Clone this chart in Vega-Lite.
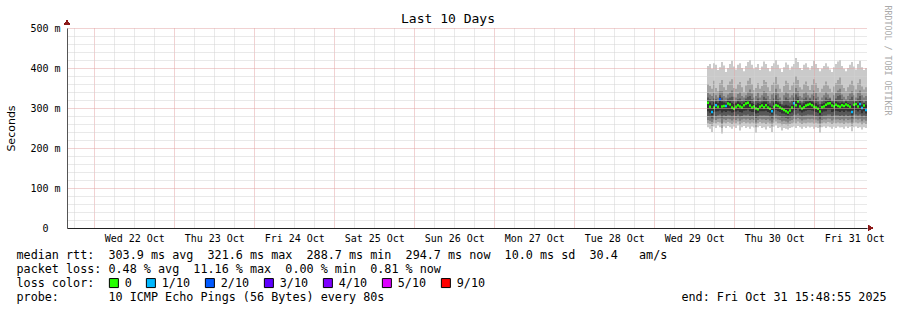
{
  "$schema": "https://vega.github.io/schema/vega-lite/v6.json",
  "width": 800,
  "height": 200,
  "autosize": {"type": "none"},
  "padding": {"left": 67, "top": 28, "right": 30, "bottom": 82},
  "background": "white",
  "title": {"text": "Last 10 Days", "font": "DejaVu Sans Mono", "fontSize": 13, "fontWeight": "normal", "color": "#000", "anchor": "middle", "frame": "group", "dx": -19, "offset": -21},
  "data": {"values": [
    {"t":"2025-10-29T15:48:55Z","m":313,"l":"0","p1":252,"p2":262,"p3":270,"p4":280,"p5":292,"p6":318,"p7":326,"p8":338,"p9":360,"p10":405},
    {"t":"2025-10-29T16:24:55Z","m":303,"l":"0","p1":248,"p2":260,"p3":268,"p4":278,"p5":288,"p6":314,"p7":322,"p8":334,"p9":355,"p10":410},
    {"t":"2025-10-29T17:00:55Z","m":290,"l":"1/10","p1":240,"p2":255,"p3":265,"p4":274,"p5":282,"p6":308,"p7":318,"p8":330,"p9":348,"p10":398},
    {"t":"2025-10-29T17:36:55Z","m":301,"l":"0","p1":254,"p2":263,"p3":271,"p4":281,"p5":290,"p6":315,"p7":324,"p8":338,"p9":368,"p10":412},
    {"t":"2025-10-29T18:12:55Z","m":307,"l":"1/10","p1":250,"p2":262,"p3":270,"p4":279,"p5":291,"p6":316,"p7":322,"p8":332,"p9":350,"p10":408},
    {"t":"2025-10-29T18:48:55Z","m":303,"l":"0","p1":256,"p2":265,"p3":273,"p4":282,"p5":292,"p6":312,"p7":318,"p8":326,"p9":342,"p10":395},
    {"t":"2025-10-29T19:24:55Z","m":322,"l":"2/10","p1":252,"p2":264,"p3":274,"p4":284,"p5":294,"p6":326,"p7":332,"p8":342,"p9":362,"p10":402},
    {"t":"2025-10-29T20:00:55Z","m":304,"l":"0","p1":236,"p2":250,"p3":262,"p4":276,"p5":289,"p6":316,"p7":326,"p8":342,"p9":370,"p10":415},
    {"t":"2025-10-29T20:36:55Z","m":305,"l":"0","p1":254,"p2":264,"p3":272,"p4":282,"p5":292,"p6":314,"p7":320,"p8":330,"p9":352,"p10":406},
    {"t":"2025-10-29T21:12:55Z","m":305,"l":"1/10","p1":250,"p2":262,"p3":270,"p4":280,"p5":290,"p6":312,"p7":318,"p8":326,"p9":345,"p10":390},
    {"t":"2025-10-29T21:48:55Z","m":311,"l":"0","p1":255,"p2":265,"p3":273,"p4":283,"p5":293,"p6":318,"p7":324,"p8":334,"p9":358,"p10":400},
    {"t":"2025-10-29T22:24:55Z","m":309,"l":"0","p1":252,"p2":263,"p3":272,"p4":282,"p5":292,"p6":317,"p7":326,"p8":338,"p9":366,"p10":410},
    {"t":"2025-10-29T23:00:55Z","m":301,"l":"0","p1":248,"p2":260,"p3":269,"p4":279,"p5":289,"p6":313,"p7":328,"p8":344,"p9":372,"p10":418},
    {"t":"2025-10-29T23:36:55Z","m":298,"l":"0","p1":254,"p2":264,"p3":272,"p4":281,"p5":290,"p6":310,"p7":318,"p8":328,"p9":350,"p10":404},
    {"t":"2025-10-30T00:12:55Z","m":303,"l":"0","p1":250,"p2":262,"p3":270,"p4":280,"p5":291,"p6":312,"p7":316,"p8":326,"p9":348,"p10":396},
    {"t":"2025-10-30T00:48:55Z","m":307,"l":"0","p1":256,"p2":266,"p3":274,"p4":284,"p5":294,"p6":316,"p7":322,"p8":335,"p9":360,"p10":408},
    {"t":"2025-10-30T01:24:55Z","m":304,"l":"0","p1":244,"p2":258,"p3":268,"p4":278,"p5":290,"p6":314,"p7":324,"p8":340,"p9":365,"p10":412},
    {"t":"2025-10-30T02:00:55Z","m":301,"l":"0","p1":252,"p2":263,"p3":271,"p4":280,"p5":289,"p6":310,"p7":318,"p8":330,"p9":352,"p10":400},
    {"t":"2025-10-30T02:36:55Z","m":307,"l":"0","p1":255,"p2":265,"p3":273,"p4":283,"p5":293,"p6":314,"p7":320,"p8":326,"p9":340,"p10":392},
    {"t":"2025-10-30T03:12:55Z","m":311,"l":"0","p1":250,"p2":262,"p3":271,"p4":282,"p5":294,"p6":318,"p7":324,"p8":332,"p9":356,"p10":405},
    {"t":"2025-10-30T03:48:55Z","m":313,"l":"0","p1":253,"p2":264,"p3":273,"p4":284,"p5":296,"p6":320,"p7":328,"p8":340,"p9":368,"p10":415},
    {"t":"2025-10-30T04:24:55Z","m":306,"l":"0","p1":248,"p2":261,"p3":270,"p4":280,"p5":292,"p6":318,"p7":330,"p8":346,"p9":375,"p10":420},
    {"t":"2025-10-30T05:00:55Z","m":301,"l":"0","p1":254,"p2":264,"p3":272,"p4":281,"p5":290,"p6":312,"p7":322,"p8":336,"p9":360,"p10":408},
    {"t":"2025-10-30T05:36:55Z","m":304,"l":"0","p1":251,"p2":262,"p3":270,"p4":280,"p5":290,"p6":310,"p7":316,"p8":326,"p9":345,"p10":398},
    {"t":"2025-10-30T06:12:55Z","m":299,"l":"0","p1":238,"p2":252,"p3":264,"p4":275,"p5":286,"p6":308,"p7":318,"p8":330,"p9":350,"p10":402},
    {"t":"2025-10-30T06:48:55Z","m":297,"l":"0","p1":252,"p2":262,"p3":270,"p4":279,"p5":288,"p6":312,"p7":324,"p8":338,"p9":362,"p10":410},
    {"t":"2025-10-30T07:24:55Z","m":303,"l":"0","p1":255,"p2":265,"p3":273,"p4":282,"p5":292,"p6":310,"p7":316,"p8":326,"p9":348,"p10":395},
    {"t":"2025-10-30T08:00:55Z","m":306,"l":"0","p1":250,"p2":262,"p3":271,"p4":281,"p5":292,"p6":314,"p7":320,"p8":332,"p9":355,"p10":404},
    {"t":"2025-10-30T08:36:55Z","m":302,"l":"0","p1":252,"p2":263,"p3":272,"p4":282,"p5":292,"p6":316,"p7":328,"p8":342,"p9":370,"p10":416},
    {"t":"2025-10-30T09:12:55Z","m":307,"l":"0","p1":246,"p2":260,"p3":270,"p4":281,"p5":293,"p6":316,"p7":324,"p8":338,"p9":365,"p10":410},
    {"t":"2025-10-30T09:48:55Z","m":301,"l":"0","p1":254,"p2":264,"p3":272,"p4":281,"p5":290,"p6":310,"p7":318,"p8":330,"p9":352,"p10":400},
    {"t":"2025-10-30T10:24:55Z","m":298,"l":"0","p1":250,"p2":261,"p3":269,"p4":278,"p5":288,"p6":306,"p7":312,"p8":322,"p9":342,"p10":392},
    {"t":"2025-10-30T11:00:55Z","m":292,"l":"1/10","p1":240,"p2":254,"p3":264,"p4":274,"p5":284,"p6":304,"p7":320,"p8":334,"p9":358,"p10":405},
    {"t":"2025-10-30T11:36:55Z","m":303,"l":"0","p1":253,"p2":263,"p3":271,"p4":281,"p5":291,"p6":314,"p7":324,"p8":338,"p9":364,"p10":412},
    {"t":"2025-10-30T12:12:55Z","m":307,"l":"0","p1":256,"p2":266,"p3":274,"p4":284,"p5":295,"p6":318,"p7":332,"p8":348,"p9":378,"p10":420},
    {"t":"2025-10-30T12:48:55Z","m":305,"l":"0","p1":250,"p2":262,"p3":271,"p4":281,"p5":292,"p6":314,"p7":322,"p8":336,"p9":360,"p10":408},
    {"t":"2025-10-30T13:24:55Z","m":301,"l":"0","p1":252,"p2":262,"p3":270,"p4":280,"p5":290,"p6":310,"p7":316,"p8":326,"p9":348,"p10":398},
    {"t":"2025-10-30T14:00:55Z","m":298,"l":"0","p1":244,"p2":257,"p3":266,"p4":276,"p5":286,"p6":306,"p7":310,"p8":320,"p9":340,"p10":390},
    {"t":"2025-10-30T14:36:55Z","m":295,"l":"0","p1":250,"p2":260,"p3":268,"p4":277,"p5":286,"p6":306,"p7":318,"p8":332,"p9":355,"p10":402},
    {"t":"2025-10-30T15:12:55Z","m":292,"l":"0","p1":248,"p2":258,"p3":266,"p4":275,"p5":284,"p6":308,"p7":326,"p8":340,"p9":368,"p10":414},
    {"t":"2025-10-30T15:48:55Z","m":289,"l":"0","p1":246,"p2":256,"p3":264,"p4":273,"p5":282,"p6":306,"p7":322,"p8":336,"p9":362,"p10":408},
    {"t":"2025-10-30T16:24:55Z","m":294,"l":"0","p1":250,"p2":260,"p3":268,"p4":276,"p5":286,"p6":304,"p7":314,"p8":326,"p9":345,"p10":396},
    {"t":"2025-10-30T17:00:55Z","m":301,"l":"0","p1":252,"p2":262,"p3":270,"p4":279,"p5":289,"p6":308,"p7":318,"p8":332,"p9":356,"p10":404},
    {"t":"2025-10-30T17:36:55Z","m":312,"l":"1/10","p1":254,"p2":264,"p3":273,"p4":283,"p5":294,"p6":320,"p7":326,"p8":338,"p9":364,"p10":410},
    {"t":"2025-10-30T18:12:55Z","m":307,"l":"0","p1":250,"p2":262,"p3":272,"p4":283,"p5":295,"p6":318,"p7":334,"p8":350,"p9":380,"p10":425},
    {"t":"2025-10-30T18:48:55Z","m":316,"l":"0","p1":255,"p2":266,"p3":275,"p4":286,"p5":298,"p6":322,"p7":328,"p8":342,"p9":370,"p10":415},
    {"t":"2025-10-30T19:24:55Z","m":304,"l":"0","p1":252,"p2":263,"p3":272,"p4":282,"p5":292,"p6":312,"p7":318,"p8":330,"p9":352,"p10":400},
    {"t":"2025-10-30T20:00:55Z","m":299,"l":"0","p1":248,"p2":260,"p3":269,"p4":279,"p5":289,"p6":308,"p7":314,"p8":326,"p9":346,"p10":395},
    {"t":"2025-10-30T20:36:55Z","m":302,"l":"0","p1":253,"p2":263,"p3":271,"p4":281,"p5":291,"p6":312,"p7":322,"p8":336,"p9":360,"p10":408},
    {"t":"2025-10-30T21:12:55Z","m":306,"l":"0","p1":250,"p2":262,"p3":271,"p4":282,"p5":293,"p6":316,"p7":326,"p8":340,"p9":366,"p10":412},
    {"t":"2025-10-30T21:48:55Z","m":308,"l":"0","p1":254,"p2":264,"p3":273,"p4":284,"p5":295,"p6":316,"p7":320,"p8":332,"p9":355,"p10":402},
    {"t":"2025-10-30T22:24:55Z","m":310,"l":"0","p1":251,"p2":263,"p3":272,"p4":283,"p5":295,"p6":318,"p7":324,"p8":326,"p9":345,"p10":396},
    {"t":"2025-10-30T23:00:55Z","m":307,"l":"0","p1":253,"p2":264,"p3":273,"p4":283,"p5":294,"p6":316,"p7":320,"p8":334,"p9":358,"p10":405},
    {"t":"2025-10-30T23:36:55Z","m":303,"l":"0","p1":248,"p2":261,"p3":271,"p4":281,"p5":292,"p6":314,"p7":330,"p8":344,"p9":372,"p10":418},
    {"t":"2025-10-31T00:12:55Z","m":301,"l":"0","p1":252,"p2":263,"p3":271,"p4":280,"p5":290,"p6":312,"p7":324,"p8":338,"p9":362,"p10":410},
    {"t":"2025-10-31T00:48:55Z","m":298,"l":"0","p1":250,"p2":261,"p3":269,"p4":278,"p5":288,"p6":308,"p7":316,"p8":328,"p9":350,"p10":400},
    {"t":"2025-10-31T01:24:55Z","m":291,"l":"0","p1":238,"p2":252,"p3":262,"p4":272,"p5":282,"p6":302,"p7":310,"p8":320,"p9":340,"p10":392},
    {"t":"2025-10-31T02:00:55Z","m":302,"l":"0","p1":252,"p2":262,"p3":270,"p4":279,"p5":289,"p6":310,"p7":316,"p8":326,"p9":348,"p10":398},
    {"t":"2025-10-31T02:36:55Z","m":304,"l":"0","p1":254,"p2":264,"p3":272,"p4":281,"p5":291,"p6":312,"p7":320,"p8":332,"p9":356,"p10":405},
    {"t":"2025-10-31T03:12:55Z","m":308,"l":"0","p1":250,"p2":262,"p3":271,"p4":281,"p5":292,"p6":316,"p7":326,"p8":340,"p9":366,"p10":412},
    {"t":"2025-10-31T03:48:55Z","m":311,"l":"0","p1":254,"p2":265,"p3":274,"p4":284,"p5":296,"p6":318,"p7":322,"p8":334,"p9":356,"p10":404},
    {"t":"2025-10-31T04:24:55Z","m":312,"l":"0","p1":252,"p2":264,"p3":273,"p4":284,"p5":296,"p6":320,"p7":324,"p8":326,"p9":348,"p10":396},
    {"t":"2025-10-31T05:00:55Z","m":306,"l":"0","p1":248,"p2":260,"p3":269,"p4":279,"p5":290,"p6":314,"p7":318,"p8":320,"p9":340,"p10":390},
    {"t":"2025-10-31T05:36:55Z","m":304,"l":"0","p1":253,"p2":263,"p3":271,"p4":281,"p5":291,"p6":312,"p7":320,"p8":332,"p9":354,"p10":402},
    {"t":"2025-10-31T06:12:55Z","m":308,"l":"0","p1":250,"p2":262,"p3":271,"p4":282,"p5":293,"p6":316,"p7":324,"p8":338,"p9":362,"p10":410},
    {"t":"2025-10-31T06:48:55Z","m":305,"l":"0","p1":254,"p2":264,"p3":272,"p4":282,"p5":292,"p6":314,"p7":330,"p8":344,"p9":370,"p10":416},
    {"t":"2025-10-31T07:24:55Z","m":303,"l":"0","p1":251,"p2":262,"p3":270,"p4":280,"p5":290,"p6":312,"p7":332,"p8":348,"p9":376,"p10":420},
    {"t":"2025-10-31T08:00:55Z","m":307,"l":"0","p1":252,"p2":263,"p3":272,"p4":282,"p5":293,"p6":314,"p7":322,"p8":334,"p9":358,"p10":405},
    {"t":"2025-10-31T08:36:55Z","m":305,"l":"0","p1":248,"p2":260,"p3":269,"p4":279,"p5":290,"p6":312,"p7":316,"p8":328,"p9":350,"p10":398},
    {"t":"2025-10-31T09:12:55Z","m":309,"l":"0","p1":254,"p2":264,"p3":273,"p4":283,"p5":294,"p6":316,"p7":320,"p8":322,"p9":342,"p10":392},
    {"t":"2025-10-31T09:48:55Z","m":306,"l":"0","p1":250,"p2":262,"p3":270,"p4":280,"p5":291,"p6":312,"p7":318,"p8":330,"p9":352,"p10":400},
    {"t":"2025-10-31T10:24:55Z","m":303,"l":"0","p1":253,"p2":263,"p3":271,"p4":281,"p5":291,"p6":310,"p7":322,"p8":336,"p9":360,"p10":408},
    {"t":"2025-10-31T11:00:55Z","m":290,"l":"1/10","p1":242,"p2":255,"p3":264,"p4":274,"p5":283,"p6":306,"p7":328,"p8":342,"p9":368,"p10":415},
    {"t":"2025-10-31T11:36:55Z","m":308,"l":"0","p1":252,"p2":263,"p3":272,"p4":283,"p5":294,"p6":314,"p7":320,"p8":332,"p9":356,"p10":404},
    {"t":"2025-10-31T12:12:55Z","m":310,"l":"0","p1":254,"p2":264,"p3":273,"p4":284,"p5":295,"p6":316,"p7":316,"p8":326,"p9":346,"p10":396},
    {"t":"2025-10-31T12:48:55Z","m":304,"l":"0","p1":250,"p2":262,"p3":271,"p4":281,"p5":291,"p6":312,"p7":324,"p8":338,"p9":362,"p10":410},
    {"t":"2025-10-31T13:24:55Z","m":310,"l":"1/10","p1":252,"p2":264,"p3":273,"p4":284,"p5":295,"p6":318,"p7":330,"p8":344,"p9":372,"p10":418},
    {"t":"2025-10-31T14:00:55Z","m":300,"l":"1/10","p1":246,"p2":258,"p3":267,"p4":277,"p5":287,"p6":308,"p7":320,"p8":332,"p9":354,"p10":402},
    {"t":"2025-10-31T14:36:55Z","m":306,"l":"0","p1":252,"p2":263,"p3":271,"p4":281,"p5":292,"p6":312,"p7":314,"p8":326,"p9":346,"p10":395},
    {"t":"2025-10-31T15:12:55Z","m":295,"l":"1/10","p1":250,"p2":260,"p3":268,"p4":277,"p5":286,"p6":308,"p7":318,"p8":330,"p9":352,"p10":400},
    {"t":"2025-10-31T15:48:55Z","p1":250,"p2":260,"p3":268,"p4":277,"p5":286,"p6":308,"p7":318,"p8":330,"p9":352,"p10":400}
  ]},
  "encoding": {
    "x": {
      "field": "t", "type": "temporal",
      "scale": {"type": "utc", "domain": [1761061735000, 1761925735000]},
      "axis": {
        "values": [1761069600000,1761091200000,1761112800000,1761134400000,1761156000000,1761177600000,1761199200000,1761220800000,1761242400000,1761264000000,1761285600000,1761307200000,1761328800000,1761350400000,1761372000000,1761393600000,1761415200000,1761436800000,1761458400000,1761480000000,1761501600000,1761523200000,1761544800000,1761566400000,1761588000000,1761609600000,1761631200000,1761652800000,1761674400000,1761696000000,1761717600000,1761739200000,1761760800000,1761782400000,1761804000000,1761825600000,1761847200000,1761868800000,1761890400000,1761912000000],
        "grid": true,
        "gridColor": {"condition": {"test": "utchours(datum.value) == 0", "value": "#e2a4a4"}, "value": "#d2d2d2"},
        "gridDash": [1, 1],
        "ticks": false,
        "domain": true,
        "domainColor": "#222222",
        "labelExpr": "utchours(datum.value) == 0 ? utcFormat(datum.value, '%a %d %b') : ''",
        "labelOffset": 40,
        "labelOverlap": false,
        "labelBound": false,
        "labelFlush": false,
        "labelFont": "DejaVu Sans Mono",
        "labelFontSize": 10,
        "labelColor": "#000000",
        "labelPadding": 5,
        "zindex": 1,
        "title": [
          "median rtt:\u00a0\u00a0303.9 ms avg\u00a0\u00a0321.6 ms max\u00a0\u00a0288.7 ms min\u00a0\u00a0294.7 ms now\u00a0\u00a010.0 ms sd\u00a0\u00a030.4\u00a0\u00a0\u00a0am/s",
          "packet loss:\u00a00.48 % avg\u00a0\u00a011.16 % max\u00a0\u00a00.00 % min\u00a0\u00a00.81 % now",
          "loss color:",
          "probe:\u00a0\u00a0\u00a0\u00a0\u00a0\u00a0\u00a010 ICMP Echo Pings (56 Bytes) every 80s\u00a0\u00a0\u00a0\u00a0\u00a0\u00a0\u00a0\u00a0\u00a0\u00a0\u00a0\u00a0\u00a0\u00a0\u00a0\u00a0\u00a0\u00a0\u00a0\u00a0\u00a0\u00a0\u00a0\u00a0\u00a0\u00a0\u00a0\u00a0\u00a0\u00a0\u00a0\u00a0\u00a0\u00a0\u00a0\u00a0\u00a0\u00a0\u00a0\u00a0\u00a0\u00a0end: Fri Oct 31 15:48:55 2025"
        ],
        "titleFont": "DejaVu Sans Mono",
        "titleFontSize": 11.75,
        "titleFontWeight": "normal",
        "titleColor": "#000000",
        "titleAnchor": "start",
        "titleAlign": "left",
        "titleBaseline": "alphabetic",
        "titleLineHeight": 14,
        "titleX": -51,
        "titleY": 30
      }
    }
  },
  "layer": [
    {
      "mark": {"type": "area", "interpolate": "step-after", "color": "#cacaca", "opacity": 1},
      "encoding": {
        "y": {
          "field": "p1", "type": "quantitative",
          "scale": {"domain": [0, 500], "nice": false},
          "axis": {
            "values": [0,20,40,60,80,100,120,140,160,180,200,220,240,260,280,300,320,340,360,380,400,420,440,460,480,500],
            "grid": true,
            "gridColor": {"condition": {"test": "datum.value % 100 == 0", "value": "#e2a4a4"}, "value": "#d2d2d2"},
            "gridDash": [1, 1],
            "ticks": false,
            "domain": true,
            "domainColor": "#555555",
            "labelExpr": "datum.value % 100 == 0 ? (datum.value == 0 ? '0' : datum.value + ' m') : ''",
            "labelPadding": {"condition": {"test": "datum.value == 0", "value": 19}, "value": 7},
            "labelFont": "DejaVu Sans Mono",
            "labelFontSize": 10,
            "labelColor": "#000000",
            "labelOverlap": false,
            "labelBound": false,
            "labelFlush": false,
            "zindex": 1,
            "title": "Seconds",
            "titleFont": "DejaVu Sans",
            "titleFontSize": 11,
            "titleFontWeight": "normal",
            "titleColor": "#000000",
            "titleX": -56,
            "titleY": 100,
            "titleBaseline": "middle",
            "titleAlign": "center",
            "titleAngle": 270
          }
        },
        "y2": {"field": "p10"}
      }
    },
    {
      "mark": {"type": "area", "interpolate": "step-after", "color": "#a4a4a4", "opacity": 1},
      "encoding": {"y": {"field": "p2", "type": "quantitative", "axis": null}, "y2": {"field": "p9"}}
    },
    {
      "mark": {"type": "area", "interpolate": "step-after", "color": "#7e7e7e", "opacity": 1},
      "encoding": {"y": {"field": "p3", "type": "quantitative", "axis": null}, "y2": {"field": "p8"}}
    },
    {
      "mark": {"type": "area", "interpolate": "step-after", "color": "#585858", "opacity": 1},
      "encoding": {"y": {"field": "p4", "type": "quantitative", "axis": null}, "y2": {"field": "p7"}}
    },
    {
      "mark": {"type": "area", "interpolate": "step-after", "color": "#323232", "opacity": 1},
      "encoding": {"y": {"field": "p5", "type": "quantitative", "axis": null}, "y2": {"field": "p6"}}
    },
    {
      "transform": [{"filter": "isValid(datum.m)"}],
      "mark": {"type": "tick", "orient": "horizontal", "size": 2, "thickness": 2.5, "xOffset": 1, "opacity": 1},
      "encoding": {
        "y": {
          "field": "m", "type": "quantitative",
          "axis": {
            "orient": "right", "grid": false, "ticks": false, "labels": false, "domain": false,
            "title": "RRDTOOL / TOBI OETIKER",
            "titleFont": "DejaVu Sans Mono", "titleFontSize": 8.3, "titleFontWeight": "normal",
            "titleColor": "#aaaaaa", "titleAngle": 90, "titleX": 19, "titleY": 32,
            "titleAlign": "center", "titleBaseline": "middle"
          }
        },
        "color": {
          "field": "l", "type": "nominal",
          "scale": {"domain": ["0", "1/10", "2/10", "3/10", "4/10", "5/10", "9/10"], "range": ["#26ff00", "#00b8ff", "#0059ff", "#5e00ff", "#7e00ff", "#dd00ff", "#ff0000"]},
          "legend": {
            "orient": "none", "legendX": 41, "legendY": 249,
            "direction": "horizontal", "columns": 7,
            "title": null,
            "symbolType": "square", "symbolSize": 81,
            "symbolStrokeColor": "#000000", "symbolStrokeWidth": 1, "symbolOpacity": 1,
            "labelFont": "DejaVu Sans Mono", "labelFontSize": 11.75, "labelColor": "#000000",
            "labelOffset": 5, "columnPadding": 12, "rowPadding": 0, "padding": 0, "offset": 0
          }
        }
      }
    },
    {
      "mark": {"type": "point", "shape": "triangle-up", "filled": true, "color": "#8b1a1a", "size": 26, "opacity": 1},
      "encoding": {
        "x": {"datum": 1761061735000, "type": "temporal"},
        "y": {"datum": 514, "type": "quantitative", "axis": null}
      }
    },
    {
      "mark": {"type": "point", "shape": "triangle-right", "filled": true, "color": "#8b1a1a", "size": 26, "opacity": 1},
      "encoding": {
        "x": {"datum": 1761929500000, "type": "temporal"},
        "y": {"datum": 0, "type": "quantitative", "axis": null}
      }
    }
  ],
  "resolve": {"axis": {"y": "independent"}},
  "config": {"view": {"stroke": null}, "font": "DejaVu Sans Mono"}
}
